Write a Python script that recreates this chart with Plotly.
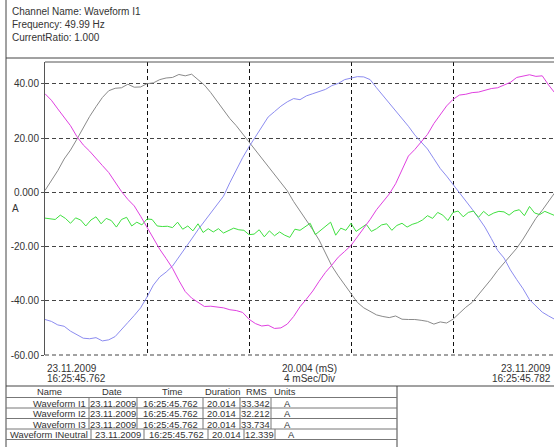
import numpy as np
import plotly.graph_objects as go

# ---------------- data ----------------
t_step_main_ms = 0.25
t_step_neutral_ms = 0.2

i1 = [36.4, 34.0, 30.8, 27.8, 24.6, 20.6, 17.5, 15.2, 12.4, 9.9,
      7.3, 3.8, 0.3, -2.6, -5.0, -8.8, -12.8, -16.8, -21.0, -24.4,
      -28.0, -32.5, -36.6, -39.0, -40.6, -42.1, -42.0, -42.4, -42.6, -43.3,
      -43.6, -44.3, -46.8, -48.4, -49.3, -49.0, -50.2, -50.0, -48.6, -45.8,
      -42.2, -39.4, -36.4, -32.8, -29.5, -26.8, -23.9, -21.8, -19.6, -16.4,
      -13.4, -10.0, -6.4, -3.4, -0.6, 3.2, 8.3, 13.4, 15.8, 18.6,
      21.4, 25.4, 28.8, 31.9, 34.3, 35.9, 36.2, 36.8, 37.0, 37.6,
      38.3, 38.6, 39.6, 40.6, 42.4, 42.8, 43.4, 42.8, 43.0, 39.6, 36.6]

i2 = [0.7, 4.2, 8.0, 12.3, 15.6, 19.6, 23.8, 28.0, 31.6, 35.0,
      37.5, 38.4, 38.6, 39.9, 38.8, 38.9, 40.1, 40.4, 41.6, 42.2,
      42.4, 43.5, 43.0, 43.6, 41.6, 39.6, 36.8, 33.6, 30.6, 27.2,
      24.6, 21.6, 18.8, 15.8, 13.0, 9.8, 6.6, 3.8, 0.6, -3.4,
      -6.8, -10.4, -13.8, -17.6, -22.4, -27.2, -30.8, -34.0, -37.6, -40.6,
      -42.6, -44.0, -45.2, -45.8, -46.2, -45.6, -46.8, -46.9, -46.9, -47.2,
      -47.6, -48.6, -47.8, -48.2, -46.8, -44.6, -42.4, -40.6, -37.8, -34.6,
      -32.0, -28.8, -26.0, -23.4, -20.6, -17.2, -13.4, -9.6, -6.6, -3.2, 0.0]

i3 = [-46.9, -47.6, -48.9, -49.4, -51.2, -52.4, -53.8, -54.0, -53.6, -54.8,
      -54.4, -53.2, -50.8, -48.0, -45.4, -42.6, -38.6, -34.2, -31.2, -29.4,
      -27.2, -24.0, -20.4, -17.2, -13.8, -10.6, -7.4, -4.6, -1.4, 3.6,
      8.4, 12.8, 16.8, 20.6, 24.2, 27.8, 29.8, 31.8, 33.4, 34.6,
      34.2, 35.6, 36.4, 37.2, 38.0, 39.4, 40.2, 41.6, 42.2, 42.7,
      42.6, 41.6, 38.6, 35.8, 32.8, 29.8, 27.4, 24.4, 21.2, 18.6,
      16.0, 12.4, 8.8, 6.0, 3.0, 0.2, -3.0, -6.2, -9.4, -12.8,
      -17.0, -21.4, -24.2, -28.6, -32.2, -35.6, -39.6, -41.8, -44.2, -45.6, -46.9]

i_neutral = [-9.5, -9.8, -10.0, -8.4, -9.6, -11.4, -9.4, -10.2, -12.4, -10.2,
             -9.0, -11.6, -9.6, -10.4, -12.8, -10.0, -9.2, -12.4, -11.0, -12.0,
             -9.8, -10.0, -12.4, -12.6, -12.5, -13.0, -11.0, -13.6, -12.4, -14.2,
             -11.6, -14.8, -13.4, -14.6, -13.4, -15.0, -14.2, -13.2, -13.8, -14.0,
             -15.6, -15.4, -13.8, -16.4, -14.2, -16.0, -14.6, -15.8, -16.6, -13.6,
             -14.0, -12.6, -11.4, -15.6, -14.0, -12.4, -11.0, -15.8, -13.2, -14.0,
             -11.4, -14.4, -13.0, -11.8, -14.4, -13.4, -12.0, -11.6, -14.0, -12.2,
             -11.4, -12.8, -11.8, -11.2, -10.2, -8.6, -9.6, -7.4, -8.4, -10.4,
             -7.4, -6.9, -9.0, -7.4, -6.9, -9.2, -7.0, -8.6, -7.6, -7.0,
             -7.2, -8.4, -6.9, -6.4, -8.6, -5.2, -7.6, -8.2, -7.0, -7.8, -8.6]

y_tick_vals = [-60, -40, -20, 0, 20, 40]
y_tick_text = ["-60.00", "-40.00", "-20.00", "0.000", "20.00", "40.00"]
x_div_vals = [4, 8, 12, 16]

header_lines = ["Channel Name: Waveform I1", "Frequency: 49.99 Hz", "CurrentRatio: 1.000"]
start_date, start_time = "23.11.2009", "16:25:45.762"
end_date, end_time = "23.11.2009", "16:25:45.782"
span_label, div_label = "20.004 (mS)", "4 mSec/Div"

tbl_cols = ["Name", "Date", "Time", "Duration", "RMS", "Units"]
tbl_names = ["Waveform I1", "Waveform I2", "Waveform I3", "Waveform INeutral"]
tbl_dates = ["23.11.2009"] * 4
tbl_times = ["16:25:45.762"] * 4
tbl_durs = ["20.014"] * 4
tbl_rms = ["33.342", "32.212", "33.734", "12.339"]
tbl_units = ["A"] * 4

# ---------------- figure ----------------
W, H = 554, 447
L, R, T, B = 45, 554, 62, 355  # plot area in pixels


def px(x):
    return (x - L) / (R - L)


def py(y):
    return (B - y) / (B - T)


t_main = np.arange(len(i1)) * t_step_main_ms
t_neu = np.arange(len(i_neutral)) * t_step_neutral_ms

fig = go.Figure()
fig.add_trace(go.Scatter(x=t_main, y=i2, mode="lines", line=dict(color="#8a8a8a", width=1), name="I2"))
fig.add_trace(go.Scatter(x=t_main, y=i3, mode="lines", line=dict(color="#8c8cf0", width=1), name="I3"))
fig.add_trace(go.Scatter(x=t_neu, y=i_neutral, mode="lines", line=dict(color="#3fe03f", width=1), name="INeutral"))
fig.add_trace(go.Scatter(x=t_main, y=i1, mode="lines", line=dict(color="#e040e0", width=1), name="I1"))

font_main = "Liberation Sans, Arial, sans-serif"
txt_col = "#333333"

fig.update_layout(
    width=W, height=H,
    margin=dict(l=L, r=W - R, t=T, b=H - B, pad=0),
    paper_bgcolor="white", plot_bgcolor="white",
    showlegend=False,
    font=dict(family=font_main, size=10, color=txt_col),
    xaxis=dict(range=[0, (R - L) / 25.5], tickvals=x_div_vals, showticklabels=False,
               showgrid=True, gridcolor="#111111", gridwidth=1, griddash="4px,3px",
               zeroline=False, showline=False, ticks=""),
    yaxis=dict(range=[-60, 48.1], tickvals=y_tick_vals, ticktext=y_tick_text,
               showgrid=True, gridcolor="#444444", gridwidth=1, griddash="4px,3px",
               zeroline=False, showline=True, linecolor="#555555", linewidth=1,
               ticks="outside", ticklen=3, tickcolor="#555555",
               tickfont=dict(size=10, color=txt_col, family=font_main)),
)

shapes = []


def hline(y, x0, x1, color="#555555", width=1, dash=None):
    d = dict(type="line", xref="paper", yref="paper", x0=px(x0), x1=px(x1), y0=py(y), y1=py(y),
             line=dict(color=color, width=width))
    if dash:
        d["line"]["dash"] = dash
    shapes.append(d)


def vline(x, y0, y1, color="#555555", width=1):
    shapes.append(dict(type="line", xref="paper", yref="paper", x0=px(x), x1=px(x), y0=py(y0), y1=py(y1),
                       line=dict(color=color, width=width)))


# frame lines
vline(6, 0, H, color="#444444")
hline(58, 6, W, color="#444444")
hline(T, L, W, color="#555555")
hline(B, L, W, color="#444444", dash="4px,3px")
hline(386, 6, W, color="#444444")
vline(397, 386, H, color="#444444")

# table grid
row_lines = [397.5, 408, 418.5, 429, 439.5]
for yl in row_lines:
    hline(yl, 6, 397, color="#777777")
row_text_y = [403, 413.5, 424, 434.5]
sep_123 = [89, 137, 203, 240, 271]
sep_4 = [91, 144, 208, 244, 275]
for r in range(4):
    seps = sep_4 if r == 3 else sep_123
    for sx in seps:
        vline(sx, row_lines[r], row_lines[r + 1] if r + 1 < len(row_lines) else H, color="#777777")

fig.update_layout(shapes=shapes)

ann = []


def text(x, y, s, xanchor="left", size=10):
    ann.append(dict(xref="paper", yref="paper", x=px(x), y=py(y), text=s, showarrow=False,
                    xanchor=xanchor, yanchor="middle", font=dict(size=size, color=txt_col, family=font_main)))


for k, s in enumerate(header_lines):
    text(10, 11 + 13.5 * k, s)

text(10, 208, "A")
text(45, 368, start_date)
text(45, 379, start_time)
text(309, 368, span_label, xanchor="center")
text(309, 379, div_label, xanchor="center")
text(553, 368, end_date, xanchor="right")
text(553, 379, end_time, xanchor="right")

# table header
TS = 9.4
hdr_x = [49, 112, 172, 222, 256, 285]
for cx, s in zip(hdr_x, tbl_cols):
    text(cx, 392, s, xanchor="center", size=TS)

for r in range(4):
    yy = row_text_y[r]
    if r < 3:
        text(88, yy, tbl_names[r], xanchor="right", size=TS)
        text(113, yy, tbl_dates[r], xanchor="center", size=TS)
        text(170, yy, tbl_times[r], xanchor="center", size=TS)
        text(221.5, yy, tbl_durs[r], xanchor="center", size=TS)
        text(255.5, yy, tbl_rms[r], xanchor="center", size=TS)
        text(287, yy, tbl_units[r], xanchor="center", size=TS)
    else:
        text(90, yy, tbl_names[r], xanchor="right", size=TS)
        text(117.5, yy, tbl_dates[r], xanchor="center", size=TS)
        text(176, yy, tbl_times[r], xanchor="center", size=TS)
        text(226, yy, tbl_durs[r], xanchor="center", size=TS)
        text(259.5, yy, tbl_rms[r], xanchor="center", size=TS)
        text(291, yy, tbl_units[r], xanchor="center", size=TS)

fig.update_layout(annotations=ann)

fig.write_html(
    "out.html",
    config={"displayModeBar": False},
    post_script="document.body.style.margin='0';document.body.style.overflow='hidden';"
                "document.documentElement.style.overflow='hidden';",
)
